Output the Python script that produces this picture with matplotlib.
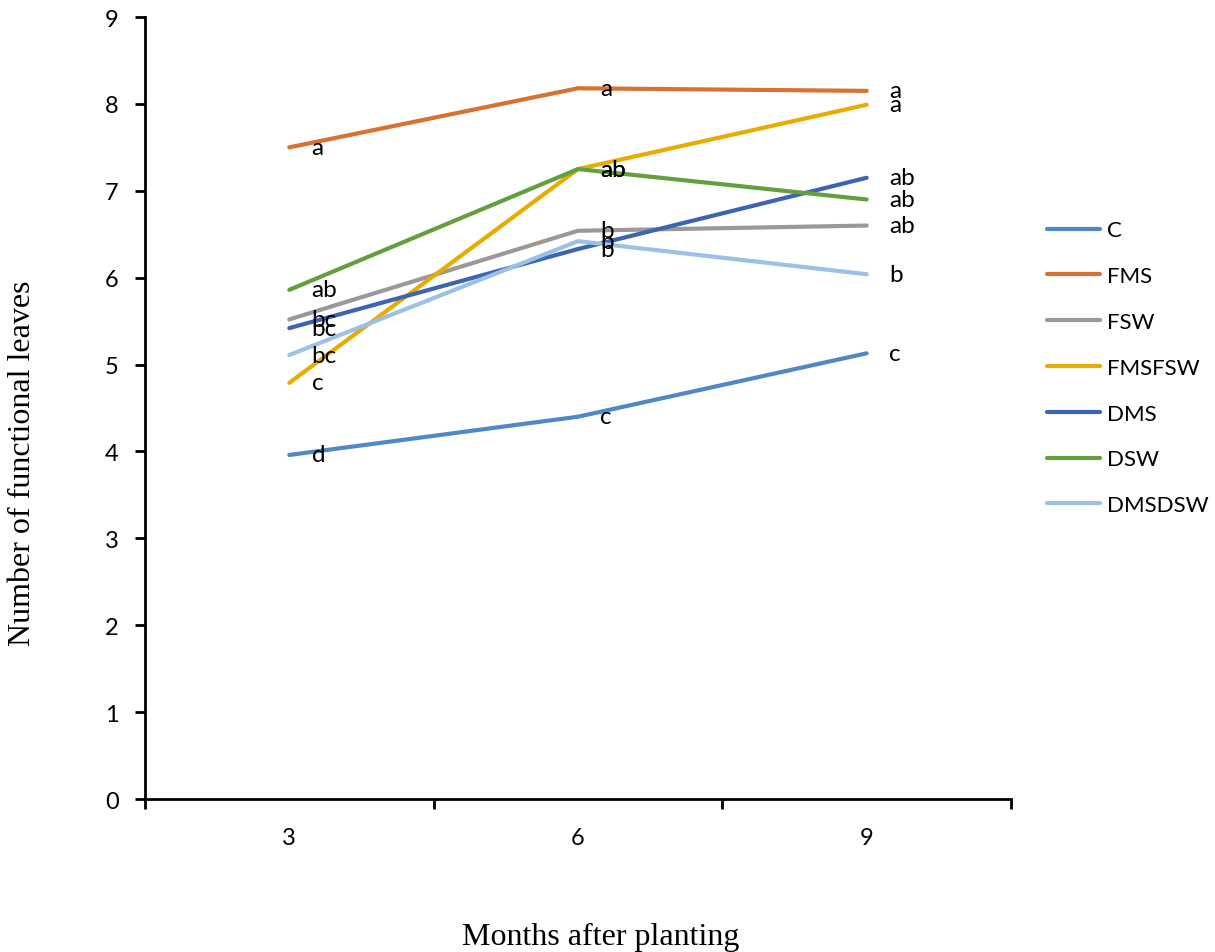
"""Number of functional leaves per treatment over months after planting."""

import matplotlib.pyplot as plt
import numpy as np

months = ["3", "6", "9"]
treatments = ["C", "FMS", "FSW", "FMSFSW", "DMS", "DSW", "DMSDSW"]

leaves_c = [3.96, 4.40, 5.13]
leaves_fms = [7.50, 8.18, 8.15]
leaves_fsw = [5.52, 6.54, 6.60]
leaves_fmsfsw = [4.79, 7.25, 7.99]
leaves_dms = [5.42, 6.33, 7.15]
leaves_dsw = [5.86, 7.25, 6.90]
leaves_dmsdsw = [5.11, 6.42, 6.04]

letters_c = ["d", "c", "c"]
letters_fms = ["a", "a", "a"]
letters_fsw = ["bc", "b", "ab"]
letters_fmsfsw = ["c", "ab", "a"]
letters_dms = ["bc", "b", "ab"]
letters_dsw = ["ab", "ab", "ab"]
letters_dmsdsw = ["bc", "b", "b"]

series = [
    (leaves_c, letters_c, "#4f88c6"),
    (leaves_fms, letters_fms, "#d9712f"),
    (leaves_fsw, letters_fsw, "#999999"),
    (leaves_fmsfsw, letters_fmsfsw, "#e8ac00"),
    (leaves_dms, letters_dms, "#3c65b1"),
    (leaves_dsw, letters_dsw, "#659e3e"),
    (leaves_dmsdsw, letters_dmsdsw, "#9cc1e6"),
]

sans = ["Lato", "DejaVu Sans"]
serif = ["Liberation Serif", "DejaVu Serif"]

fig = plt.figure(figsize=(12.15, 9.53), dpi=100)
ax = fig.add_axes([0.1193, 0.1605, 0.7128, 0.8206])

x = np.arange(len(months))
for (values, letters, color), name in zip(series, treatments):
    ax.plot(x, values, color=color, linewidth=3, label=name, solid_capstyle="round")
    for xi, yi, txt in zip(x, values, letters):
        ax.annotate(txt, (xi, yi), xytext=(16, 0), textcoords="offset points",
                    ha="left", va="center", fontsize=17.5, family=sans)

ax.set_xlim(-0.5, 2.5)
ax.set_ylim(0, 9)
ax.set_yticks(range(0, 10))
ax.set_xticks(x)
ax.set_xticklabels(months)
ax.set_xticks([-0.5, 0.5, 1.5, 2.5], minor=True)
ax.tick_params(axis="x", which="major", length=0, pad=20)
ax.tick_params(axis="x", which="minor", length=7, width=2, direction="out")
ax.tick_params(axis="y", length=7, width=2, direction="out", pad=12)
for lab in ax.get_xticklabels() + ax.get_yticklabels():
    lab.set_fontsize(17)
    lab.set_family(sans)

for side in ("top", "right"):
    ax.spines[side].set_visible(False)
for side in ("left", "bottom"):
    ax.spines[side].set_linewidth(2)

fig.text(0.0185, 0.514, "Number of functional leaves", rotation=90, ha="center",
         va="center", fontsize=23, family=serif)
fig.text(0.494, 0.016, "Months after planting", ha="center", va="center",
         fontsize=23, family=serif)

ax.legend(loc="center left", bbox_to_anchor=(0.8617, 0.613), bbox_transform=fig.transFigure,
          frameon=False, prop={"family": sans, "size": 16}, handlelength=2.4,
          handletextpad=0.3, labelspacing=1.16, borderaxespad=0, borderpad=0)

fig.savefig("out.png", dpi=100)
